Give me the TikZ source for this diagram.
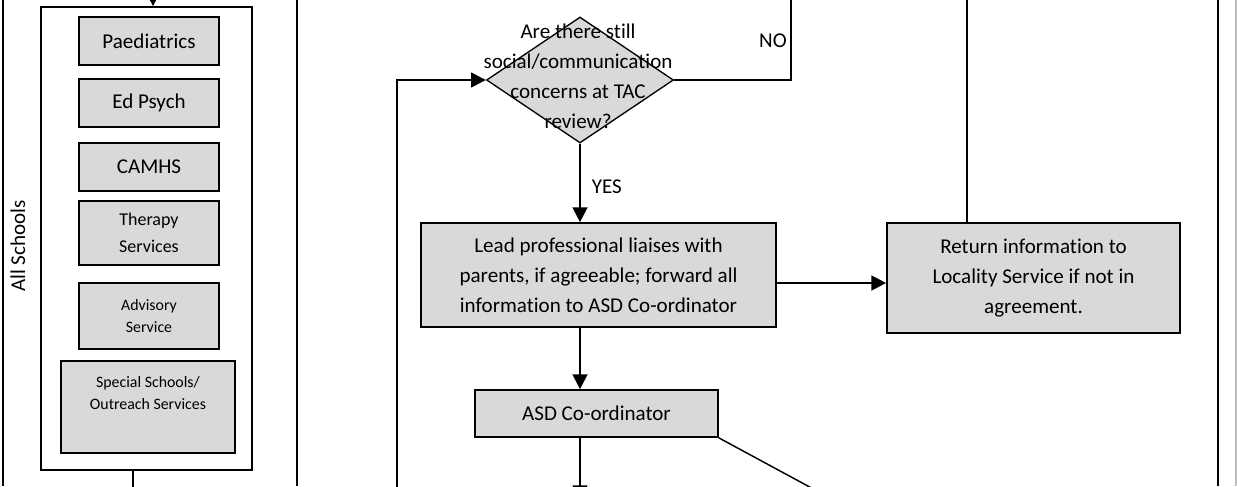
\documentclass[tikz,border=0pt]{standalone}
\usepackage{fontspec}
\setmainfont{Carlito}[Ligatures={NoCommon}]
\usetikzlibrary{shapes.geometric,arrows.meta}
\definecolor{boxgrey}{RGB}{217,217,217}
\definecolor{edgegrey}{RGB}{190,190,190}
\tikzset{
  box/.style={draw=black, fill=boxgrey, line width=1.3pt, inner sep=0pt, align=center, font=\fontsize{15.8}{22.5}\selectfont},
  midbox/.style={box, font=\fontsize{13.5}{20.25}\selectfont},
  smallbox/.style={box, font=\fontsize{11.9}{16.5}\selectfont},
  conn/.style={line width=1.7pt, draw=black},
  arr/.style={conn, -{Triangle[length=11pt,width=11pt]}},
  lbl/.style={font=\fontsize{15.8}{22.5}\selectfont, align=center, inner sep=0pt},
  lane/.style={line width=1.6pt, draw=black}
}
\begin{document}
\begin{tikzpicture}[x=0.75pt,y=-0.75pt]
\useasboundingbox (0,0) rectangle (1237,486);
\clip (0,0) rectangle (1237,486);
% lanes
\coordinate (l1t) at (3,0); \coordinate (l1b) at (3,486);
\coordinate (l2t) at (297,0); \coordinate (l2b) at (297,486);
\coordinate (l3t) at (1218,0); \coordinate (l3b) at (1218,486);
\coordinate (l4t) at (1236,0); \coordinate (l4b) at (1236,486);
\draw[lane] (l1t) -- (l1b);
\draw[lane] (l2t) -- (l2b);
\draw[lane] (l3t) -- (l3b);
\draw[edgegrey, line width=0.8pt] (l4t) -- (l4b);
\node[lbl, rotate=90] (allschools) at (18,246) {All Schools};
% inner schools box
\node[draw=black, line width=1.3pt, minimum width=158.25pt, minimum height=347.25pt, inner sep=0pt] (schools) at (146.5,238.5) {};
\node[box, minimum width=105pt, minimum height=36pt] (paed) at (149,41) {Paediatrics};
\node[box, minimum width=105pt, minimum height=36pt] (edpsych) at (149,103) {Ed Psych};
\node[box, minimum width=105pt, minimum height=36pt] (camhs) at (149,167) {CAMHS};
\node[midbox, minimum width=105pt, minimum height=48pt] (therapy) at (149,233) {Therapy\\Services};
\node[smallbox, minimum width=105pt, minimum height=49.5pt] (advisory) at (149,316) {Advisory\\Service};
\node[smallbox, minimum width=130.5pt, minimum height=69pt] (special) at (148,407) {};
\node[lbl, font=\fontsize{11.9}{16.5}\selectfont] (specialtxt) at (148,393) {Special Schools/\\Outreach Services};
\coordinate (topin) at (153,-30);
\draw[arr] (topin) -- (schools.north -| topin);
\coordinate (schoolsout) at (133,490);
\draw[conn] (schools.south -| schoolsout) -- (schoolsout);
% decision
\node[draw=black, fill=boxgrey, line width=1pt, diamond, minimum width=140.25pt, minimum height=94.5pt, inner sep=0pt] (dia) at (580,80) {};
\node[lbl] (diatxt) at (578,76) {Are there still\\social/communication\\concerns at TAC\\review?};
\node[box, minimum width=266.25pt, minimum height=78pt] (lead) at (598.5,275) {Lead professional liaises with\\parents, if agreeable; forward all\\information to ASD Co-ordinator};
\node[box, minimum width=182.25pt, minimum height=35.25pt] (asd) at (596.5,413.5) {ASD Co-ordinator};
\node[box, minimum width=219.75pt, minimum height=82.5pt] (ret) at (1033.5,278) {Return information to\\Locality Service if not in\\agreement.};
% connectors
\draw[arr] (dia.south) -- (lead.north -| dia.south) node[pos=0.55, right=8pt, lbl] (yes) {YES};
\coordinate (noc) at (791,-10);
\draw[conn] (dia.east) -- (dia.east -| noc) -- (noc);
\node[lbl] (no) at (773,41) {NO};
\coordinate (loopb) at (397,490);
\draw[arr] (loopb) -- (loopb |- dia.west) -- (dia.west);
\draw[arr] (lead.south -| dia.south) -- (asd.north -| dia.south);
\coordinate (asdout) at (580,500);
\draw[arr] (asd.south -| asdout) -- (asdout);
\coordinate (diag) at (830,498);
\draw[line width=1.1pt] (asd.south east) -- (diag);
\coordinate (rety) at (0,283);
\draw[arr] (lead.east |- rety) -- (ret.west |- rety);
\coordinate (rettop) at (967,-10);
\draw[conn] (ret.north -| rettop) -- (rettop);
\end{tikzpicture}
\end{document}
